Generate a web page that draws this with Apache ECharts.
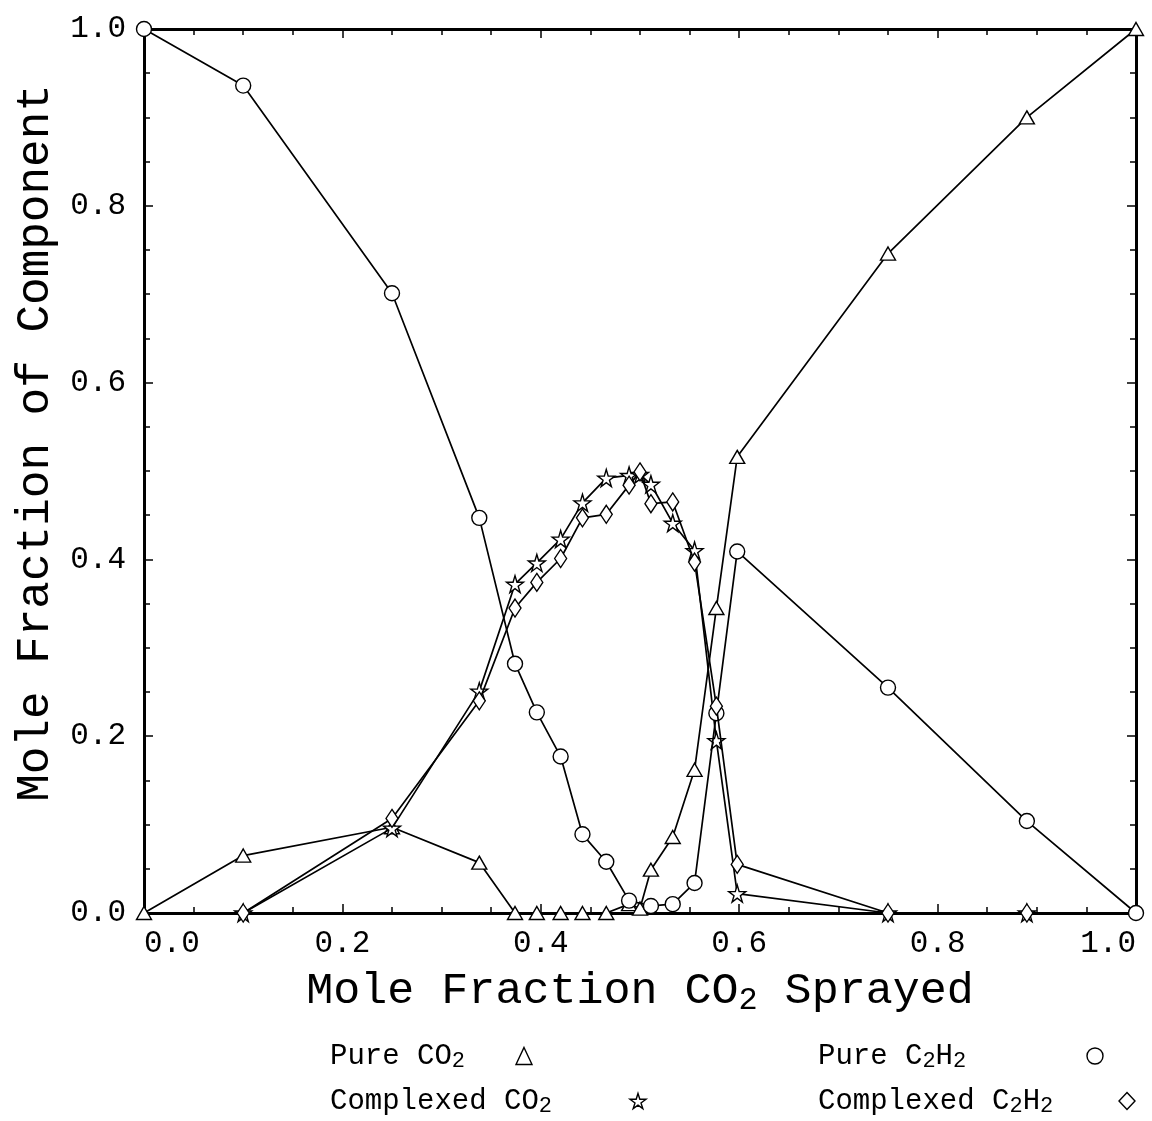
<!DOCTYPE html>
<html>
<head>
<meta charset="utf-8">
<script src="https://cdn.jsdelivr.net/npm/echarts@6/dist/echarts.min.js"></script>
<style>
html,body{margin:0;padding:0;background:#fff;}
#chart{width:1152px;height:1121px;}
</style>
</head>
<body>
<div id="chart"></div>
<script>
// ---- data ----
const pureCO2_x   = [0, 0.1, 0.25, 0.338, 0.374, 0.396, 0.42, 0.442, 0.466, 0.489, 0.5, 0.511, 0.533, 0.555, 0.577, 0.598, 0.75, 0.89, 1.0];
const pureCO2_y   = [0, 0.065, 0.097, 0.057, 0, 0, 0, 0, 0, 0.010, 0.005, 0.049, 0.086, 0.162, 0.345, 0.516, 0.746, 0.900, 1.0];

const pureC2H2_x  = [0, 0.1, 0.25, 0.338, 0.374, 0.396, 0.42, 0.442, 0.466, 0.489, 0.511, 0.533, 0.555, 0.577, 0.598, 0.75, 0.89, 1.0];
const pureC2H2_y  = [1.0, 0.936, 0.701, 0.447, 0.282, 0.227, 0.177, 0.089, 0.058, 0.014, 0.008, 0.010, 0.034, 0.226, 0.409, 0.255, 0.104, 0];

const complexCO2_x = [0.1, 0.25, 0.338, 0.374, 0.396, 0.42, 0.442, 0.466, 0.489, 0.5, 0.511, 0.533, 0.555, 0.577, 0.598, 0.75, 0.89];
const complexCO2_y = [0, 0.096, 0.251, 0.372, 0.396, 0.423, 0.464, 0.492, 0.495, 0.496, 0.485, 0.441, 0.410, 0.195, 0.022, 0, 0];

const complexC2H2_x = [0.1, 0.25, 0.338, 0.374, 0.396, 0.42, 0.442, 0.466, 0.489, 0.5, 0.511, 0.533, 0.555, 0.577, 0.598, 0.75, 0.89];
const complexC2H2_y = [0, 0.107, 0.240, 0.345, 0.374, 0.401, 0.447, 0.451, 0.484, 0.499, 0.463, 0.465, 0.397, 0.234, 0.055, 0, 0];

const seriesNames = ['Pure CO₂', 'Complexed CO₂', 'Pure C₂H₂', 'Complexed C₂H₂'];
// the same names split into [text, subscript, text, subscript ...] for display
const seriesLabelParts = [['Pure CO', '2'], ['Complexed CO', '2'], ['Pure C', '2', 'H', '2'], ['Complexed C', '2', 'H', '2']];
const xTitleParts = ['Mole Fraction CO', '2', ' Sprayed'];
const yTitle = 'Mole Fraction of Component';

// ---- styling ----
const FONT = '"Liberation Mono", "DejaVu Sans Mono", monospace';
const STAR = 'path://M50,0 L61,35 L98,35 L68,57 L79,91 L50,70 L21,91 L32,57 L2,35 L39,35 Z';
const symbols = ['triangle', STAR, 'circle', 'diamond'];
const symbolSizes = [[15, 13], 17, 15, [12, 18]];
const xs = [pureCO2_x, complexCO2_x, pureC2H2_x, complexC2H2_x];
const ys = [pureCO2_y, complexCO2_y, pureC2H2_y, complexC2H2_y];

function pairs(x, y) { return x.map((v, i) => [v, y[i]]); }

// measure text widths so the legend icons land at the reference positions
const mctx = document.createElement('canvas').getContext('2d');
function textW(str, size) { mctx.font = size + 'px ' + FONT; return mctx.measureText(str).width; }

function richFromParts(parts) {
  return parts.map((p, k) => (k % 2 === 1 ? '{s|' + p + '}' : '{t|' + p + '}')).join('');
}

const series = seriesNames.map((name, i) => ({
  name: name,
  type: 'line',
  data: pairs(xs[i], ys[i]),
  symbol: symbols[i],
  symbolSize: symbolSizes[i],
  showSymbol: true,
  lineStyle: { color: '#000', width: 1.7 },
  itemStyle: { color: '#fff', borderColor: '#000', borderWidth: 1.4 },
  emphasis: { disabled: true },
  animation: false,
  z: 2 + i
}));

function axisCommon(showLabel) {
  return {
    type: 'value', min: 0, max: 1, interval: 0.2,
    axisLine: { show: true, onZero: false, lineStyle: { color: '#000', width: 3 } },
    axisTick: { show: true, inside: true, length: 9, lineStyle: { color: '#000', width: 1.5 } },
    minorTick: { show: true, splitNumber: 4, length: 6, lineStyle: { color: '#000', width: 1.5 } },
    splitLine: { show: false },
    axisLabel: {
      show: showLabel, color: '#000', fontFamily: FONT, fontSize: 31,
      formatter: v => v.toFixed(1)
    }
  };
}

// legend: where each item starts and the width of its text box (icon follows it)
const LEG_FS = 29, LEG_SUB = 22;
const legendPos = [
  { left: 330, top: 1040, w: 181 },
  { left: 330, top: 1085, w: 295 },
  { left: 818, top: 1040, w: 264 },
  { left: 818, top: 1085, w: 296 }
];
const legends = legendPos.map((p, i) => {
  const parts = seriesLabelParts[i];
  let used = 0;
  parts.forEach((s, k) => { used += textW(s, k % 2 === 1 ? LEG_SUB : LEG_FS); });
  const gap = Math.max(2, p.w - used);
  return {
    data: [{ name: seriesNames[i], icon: symbols[i] }],
    left: p.left, top: p.top, padding: 0,
    align: 'right', orient: 'horizontal',
    itemWidth: 16, itemHeight: 17,
    selectedMode: false,
    formatter: () => richFromParts(parts) + '{g| }',
    textStyle: {
      fontFamily: FONT, fontSize: LEG_FS, color: '#000', lineHeight: 32,
      rich: {
        t: { fontFamily: FONT, fontSize: LEG_FS, color: '#000', lineHeight: 32 },
        s: { fontFamily: FONT, fontSize: LEG_SUB, color: '#000', lineHeight: 20, verticalAlign: 'bottom' },
        g: { fontFamily: FONT, fontSize: LEG_FS, color: '#000', lineHeight: 32, width: gap }
      }
    },
    itemStyle: { color: '#fff', borderColor: '#000', borderWidth: 1.4 }
  };
});

const option = {
  backgroundColor: '#fff',
  animation: false,
  grid: { left: 144, right: 16, top: 29, bottom: 208, containLabel: false },
  legend: legends,
  xAxis: [
    Object.assign(axisCommon(true), {
      position: 'bottom',
      name: richFromParts(xTitleParts), nameLocation: 'middle', nameGap: 52,
      nameTextStyle: {
        fontFamily: FONT, fontSize: 45, color: '#000', lineHeight: 52,
        rich: {
          t: { fontFamily: FONT, fontSize: 45, color: '#000', lineHeight: 52 },
          s: { fontFamily: FONT, fontSize: 32, color: '#000', lineHeight: 28, verticalAlign: 'bottom' }
        }
      },
      axisLabel: Object.assign(axisCommon(true).axisLabel, { margin: 15, alignMinLabel: 'left', alignMaxLabel: 'right' })
    }),
    Object.assign(axisCommon(false), { position: 'top' })
  ],
  yAxis: [
    Object.assign(axisCommon(true), {
      position: 'left',
      name: yTitle, nameLocation: 'middle', nameGap: 84, nameRotate: 90,
      nameTextStyle: { fontFamily: FONT, fontSize: 46, color: '#000', padding: [0, 0, 0, 56] },
      axisLabel: Object.assign(axisCommon(true).axisLabel, { margin: 18 })
    }),
    Object.assign(axisCommon(false), { position: 'right' })
  ],
  series: series
};

const chart = echarts.init(document.getElementById('chart'), null, { renderer: 'canvas' });
chart.setOption(option);
</script>
</body>
</html>
